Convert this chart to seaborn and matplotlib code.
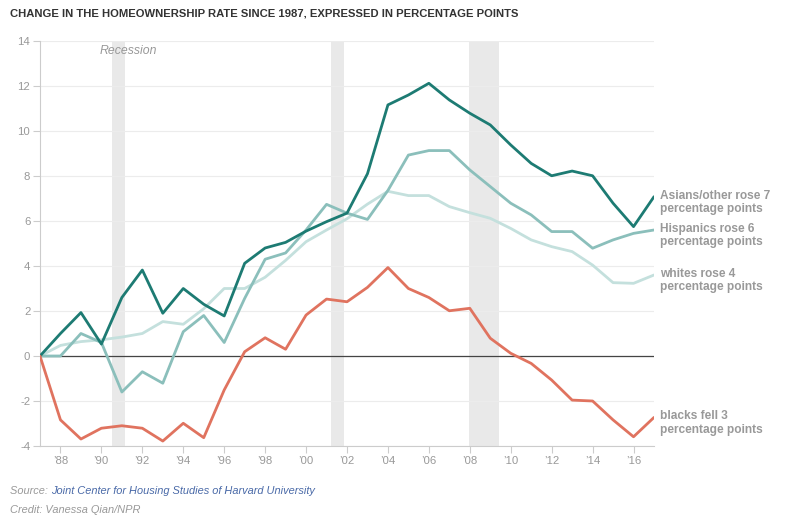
import pandas as pd
import numpy as np
import seaborn as sns
import matplotlib.pyplot as plt

# dados (variação em pontos percentuais desde 1987)
anos = list(range(1987, 2018))

asians = [0, 1.0, 1.93, 0.53, 2.6, 3.82, 1.9, 3.0, 2.3, 1.78, 4.12, 4.8, 5.05, 5.55, 5.97,
          6.35, 8.1, 11.16, 11.6, 12.12, 11.38, 10.79, 10.27, 9.38, 8.56, 8.01, 8.22, 8.01,
          6.79, 5.75, 7.08]
hispanics = [0, 0, 1.0, 0.6, -1.6, -0.7, -1.21, 1.08, 1.8, 0.6, 2.56, 4.3, 4.58, 5.6, 6.74,
             6.35, 6.07, 7.36, 8.93, 9.13, 9.13, 8.27, 7.53, 6.79, 6.27, 5.53, 5.53, 4.79,
             5.16, 5.45, 5.6]
whites = [0, 0.47, 0.64, 0.72, 0.84, 1.0, 1.53, 1.41, 2.1, 3.0, 3.0, 3.5, 4.25, 5.08, 5.6,
          6.1, 6.75, 7.32, 7.13, 7.13, 6.64, 6.37, 6.12, 5.67, 5.16, 4.86, 4.64, 4.04,
          3.26, 3.23, 3.6]
blacks = [0, -2.84, -3.69, -3.21, -3.1, -3.21, -3.78, -2.99, -3.63, -1.51, 0.19, 0.81, 0.3,
          1.82, 2.53, 2.41, 3.05, 3.93, 3.0, 2.6, 2.01, 2.12, 0.79, 0.12, -0.33, -1.07,
          -1.96, -2.0, -2.84, -3.59, -2.73]

grupos = ['whites', 'Hispanics', 'Asians/other', 'blacks']
rotulos = ['whites rose 4\npercentage points', 'Hispanics rose 6\npercentage points',
           'Asians/other rose 7\npercentage points', 'blacks fell 3\npercentage points']
recessoes = [(1990.5, 1991.15), (2001.2, 2001.85), (2007.95, 2009.45)]
anos_ticks = list(range(1988, 2017, 2))

df = pd.DataFrame({
    'ano': anos * 4,
    'valor': whites + hispanics + asians + blacks,
    'grupo': sum([[g] * len(anos) for g in grupos], [])
})

cores = {
    'whites': '#c4e0dd',
    'Hispanics': '#8bbfbb',
    'Asians/other': '#1d7b73',
    'blacks': '#e0735f',
}

sns.set_theme(style='white')
plt.rcParams['font.family'] = ['Liberation Sans', 'DejaVu Sans']
plt.rcParams['axes.unicode_minus'] = False

fig = plt.figure(figsize=(7.91, 5.24), dpi=100)
ax = fig.add_axes([40 / 791, 1 - 446 / 524, 614 / 791, 405 / 524])

for a, b in recessoes:
    ax.axvspan(a, b, color='#e9e9e9', lw=0, zorder=0)

ax.set_yticks(range(-4, 15, 2))
ax.yaxis.grid(True, color='#ececec', lw=0.8, zorder=0)
ax.axhline(0, color='#444444', lw=0.9, zorder=1)

sns.lineplot(data=df, x='ano', y='valor', hue='grupo', hue_order=grupos,
             palette=cores, lw=2.0, legend=False, ax=ax, zorder=3,
             solid_joinstyle='round', solid_capstyle='round')

ax.set_xlim(1987, 2017)
ax.set_ylim(-4, 14)
ax.set_xticks(anos_ticks)
ax.set_xticklabels(['\u2019' + str(a)[2:] for a in anos_ticks])
ax.set_xlabel('')
ax.set_ylabel('')

for s in ['top', 'right']:
    ax.spines[s].set_visible(False)
for s in ['left', 'bottom']:
    ax.spines[s].set_color('#cccccc')
    ax.spines[s].set_linewidth(0.8)
ax.tick_params(axis='both', direction='out', length=5, width=0.8, color='#cccccc',
               labelcolor='#999999', labelsize=8.2, pad=2)
ax.tick_params(axis='y', left=True)
ax.tick_params(axis='x', bottom=True)

series = {'whites': whites, 'Hispanics': hispanics, 'Asians/other': asians, 'blacks': blacks}
for g, r in zip(grupos, rotulos):
    ax.annotate(r, xy=(anos[-1], series[g][-1]), xytext=(4, -4), textcoords='offset points',
                ha='left', va='center', fontsize=8.6, fontweight='bold', color='#999999',
                linespacing=1.15, annotation_clip=False)

ax.text(1989.9, 13.55, 'Recession', fontsize=8.8, style='italic', color='#999999',
        ha='left', va='center')

fig.text(10 / 791, 1 - 14 / 524, 'CHANGE IN THE HOMEOWNERSHIP RATE SINCE 1987, EXPRESSED IN PERCENTAGE POINTS',
         fontsize=8.1, fontweight='bold', color='#333333', ha='left', va='center')

t1 = fig.text(10 / 791, 1 - 491 / 524, 'Source: ', fontsize=7.9, style='italic',
              color='#999999', ha='left', va='center')
ax.annotate('Joint Center for Housing Studies of Harvard University', xy=(1, 0.5),
            xycoords=t1, ha='left', va='center', fontsize=7.9, style='italic', color='#4a6aa8')
fig.text(10 / 791, 1 - 510 / 524, 'Credit: Vanessa Qian/NPR', fontsize=7.9, style='italic',
         color='#999999', ha='left', va='center')

fig.savefig('out.png', dpi=100)
